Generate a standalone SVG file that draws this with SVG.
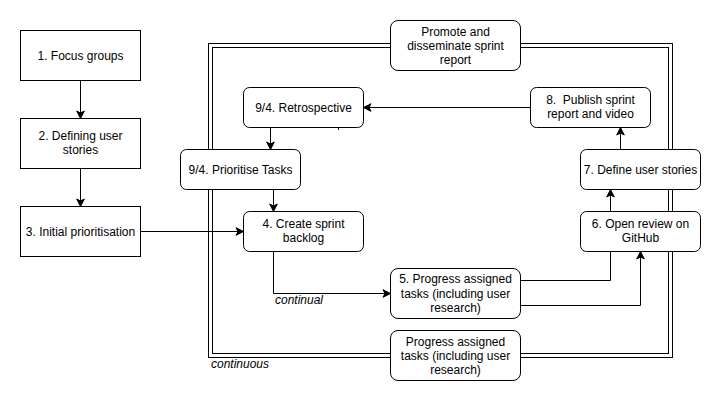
<svg xmlns="http://www.w3.org/2000/svg" width="721" height="401" viewBox="0 0 721 401">
<defs>
<marker id="arr" markerUnits="userSpaceOnUse" markerWidth="10" markerHeight="10" viewBox="-9 -5 10 10" refX="0" refY="0" orient="auto">
<path d="M-7.5,-3.8 L0,0 L-7.5,3.8 L-5.5,0 Z" fill="#000" stroke="#000" stroke-width="1"/>
</marker>
<style>
.box{fill:#fff;stroke:#000;stroke-width:1}
.t{font-family:"Liberation Sans",Arial,sans-serif;font-size:12px;fill:#000;text-anchor:middle}
.it{font-family:"Liberation Sans",Arial,sans-serif;font-size:12px;font-style:italic;fill:#000}
.c{fill:none;stroke:#000;stroke-width:1}
.a{marker-end:url(#arr)}
</style>
</defs>
<rect width="721" height="401" fill="#fff"/>
<g id="frame">
<rect x="208.5" y="43.5" width="464" height="314" fill="none" stroke="#000"/>
<rect x="212.5" y="47.5" width="456" height="306" fill="none" stroke="#000"/>
</g>
<g id="connectors">
<path class="c a" d="M80.5 80.5 V118.5"/>
<path class="c a" d="M80.5 168.5 V206.5"/>
<path class="c a" d="M140.5 231.5 H243.5"/>
<path class="c a" d="M530.5 107.5 H363.5"/>
<path class="c a" d="M270.5 127.5 V149.5"/>
<path class="c a" d="M273.5 189.5 V211.5"/>
<path class="c a" d="M273.5 251.5 V293.5 H390.5"/>
<path class="c" d="M520.5 280.5 H610.5 V251.5"/>
<path class="c a" d="M520.5 305.5 H640.5 V251.5"/>
<path class="c a" d="M610.5 211.5 V189.5"/>
<path class="c a" d="M620.5 149.5 V127.5"/>
<path class="c" d="M338.5 127.5 V130"/>
</g>
<g id="n1"><rect class="box" x="20.5" y="30.5" width="120" height="50"/><text class="t" x="80.5" y="59.5">1. Focus groups</text></g>
<g id="n2"><rect class="box" x="20.5" y="118.5" width="120" height="50"/><text class="t" x="80.5" y="140">2. Defining user</text><text class="t" x="80.5" y="154">stories</text></g>
<g id="n3"><rect class="box" x="20.5" y="206.5" width="120" height="50"/><text class="t" x="80.5" y="235.5">3. Initial prioritisation</text></g>
<g id="promote"><rect class="box" x="390.5" y="20.5" width="130" height="50" rx="7.5"/><text class="t" x="455.5" y="36">Promote and</text><text class="t" x="455.5" y="50">disseminate sprint</text><text class="t" x="455.5" y="64">report</text></g>
<g id="retro"><rect class="box" x="243.5" y="87.5" width="120" height="40" rx="6"/><text class="t" x="303.5" y="111.5">9/4. Retrospective</text></g>
<g id="n8"><rect class="box" x="530.5" y="87.5" width="120" height="40" rx="6"/><text class="t" x="590.5" y="104" xml:space="preserve">8.  Publish sprint</text><text class="t" x="590.5" y="118">report and video</text></g>
<g id="prior"><rect class="box" x="180.5" y="149.5" width="120" height="40" rx="6"/><text class="t" x="240.5" y="173.5">9/4. Prioritise Tasks</text></g>
<g id="n7"><rect class="box" x="580.5" y="149.5" width="120" height="40" rx="6"/><text class="t" x="640.5" y="173.5">7. Define user stories</text></g>
<g id="n4"><rect class="box" x="243.5" y="211.5" width="120" height="40" rx="6"/><text class="t" x="303.5" y="228">4. Create sprint</text><text class="t" x="303.5" y="242">backlog</text></g>
<g id="n6"><rect class="box" x="580.5" y="211.5" width="120" height="40" rx="6"/><text class="t" x="640.5" y="228">6. Open review on</text><text class="t" x="640.5" y="242">GitHub</text></g>
<g id="n5"><rect class="box" x="390.5" y="268.5" width="130" height="50" rx="7.5"/><text class="t" x="455.5" y="283">5. Progress assigned</text><text class="t" x="455.5" y="297.5">tasks (including user</text><text class="t" x="455.5" y="311.5">research)</text></g>
<g id="progress"><rect class="box" x="390.5" y="330.5" width="130" height="50" rx="7.5"/><text class="t" x="455.5" y="345.5">Progress assigned</text><text class="t" x="455.5" y="359.5">tasks (including user</text><text class="t" x="455.5" y="373.5">research)</text></g>
<g id="labels">
<text class="it" x="275" y="304">continual</text>
<text class="it" x="211" y="368">continuous</text>
</g>
</svg>
